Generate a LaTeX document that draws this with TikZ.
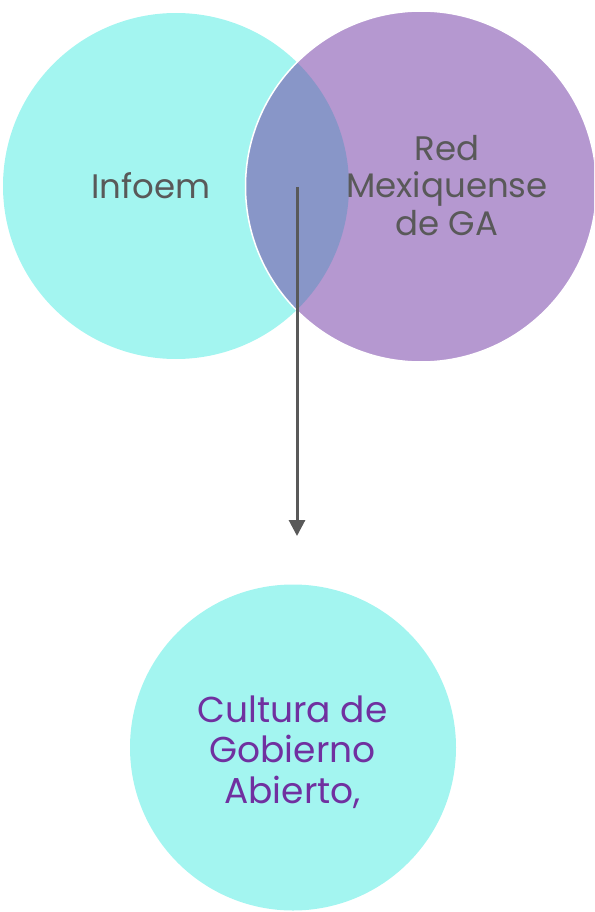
\documentclass[tikz,border=0pt]{standalone}
\usepackage{fontspec}
\setmainfont{Poppins}
\usetikzlibrary{arrows.meta}
\definecolor{infoemcyan}{HTML}{A3F5F0}
\definecolor{redpurple}{HTML}{B598D0}
\definecolor{lensblue}{HTML}{8896C8}
\definecolor{textgray}{HTML}{595959}
\definecolor{culturepurple}{HTML}{7030A0}
\tikzset{
	venn/.style={circle, inner sep=0pt, minimum size=#1},
	graytext/.style={text=textgray, align=center, inner sep=0pt, font=\fontsize{34}{37.5}\selectfont},
	flow/.style={textgray, line width=3pt, -{Triangle[width=16pt, length=16pt]}},
}
\begin{document}
\begin{tikzpicture}[x=1pt, y=-1pt]
		\useasboundingbox (0,0) rectangle (594,912);
		\clip (0,0) rectangle (594,912);
		\node[venn=346pt, fill=infoemcyan] (infoem) at (176,186) {};
		\node[venn=351pt, fill=redpurple] (red) at (421,186.5) {};
		\begin{scope}
			\clip (176,186) circle (173);
			\fill[lensblue] (421,186.5) circle (175.5);
		\end{scope}
		\draw[white, line width=1.5pt] (421,186.5) circle (175.5);
		\node[graytext, anchor=base] (infoemtext) at (151,198) {Infoem};
		\node[graytext, anchor=base] (redtext) at (447,235) {Red\\Mexiquense\\de GA};
		\node[venn=326pt, fill=infoemcyan] (cultura) at (293,747.5) {};
		\node[text=culturepurple, align=center, inner sep=0pt, font=\fontsize{36}{40.5}\selectfont, anchor=base] (culturatext) at (292.5,803) {Cultura de\\Gobierno\\Abierto,};
		\coordinate (lens) at (297,187);
		\coordinate (tip) at (297,536);
		\draw[flow] (lens) -- (tip);
	\end{tikzpicture}
\end{document}
